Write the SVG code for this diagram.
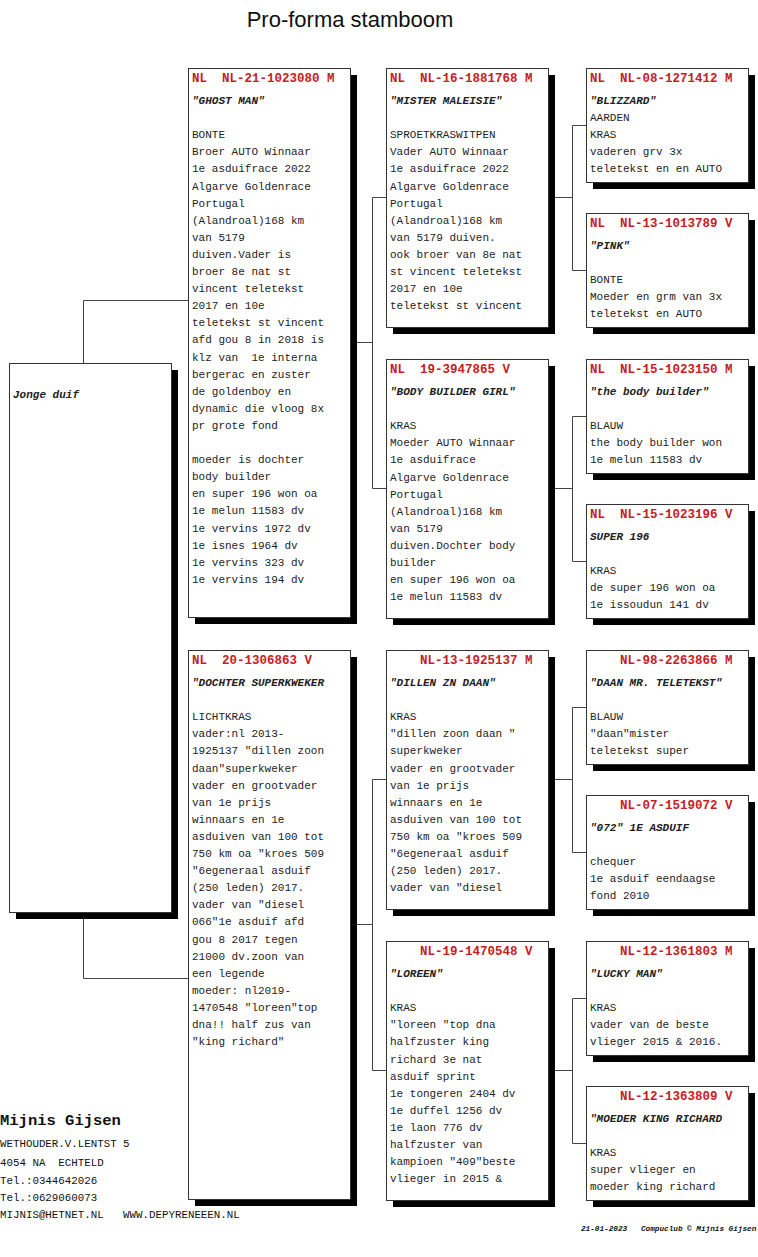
<svg xmlns="http://www.w3.org/2000/svg" width="758" height="1257" viewBox="0 0 758 1257">
<style>
.bg{fill:#fff}
.box{fill:#fff;stroke:#333;stroke-width:1}
.sh{fill:#000}
.hd{font-family:"Liberation Mono",monospace;font-size:12.5px;font-weight:bold;fill:#c8201e;white-space:pre}
.nm{font-family:"Liberation Mono",monospace;font-size:11px;font-style:italic;font-weight:bold;fill:#222;white-space:pre}
.tx{font-family:"Liberation Mono",monospace;font-size:11px;fill:#222;white-space:pre}
.cn{stroke:#444;stroke-width:1;fill:none}
.ttl{font-family:"Liberation Sans",Arial,sans-serif;font-size:22px;fill:#111}
.adr{font-family:"Liberation Mono",monospace;font-size:10.8px;fill:#111;white-space:pre}
.adn{font-family:"Liberation Mono",monospace;font-size:15.5px;font-weight:bold;fill:#111}
.ft{font-family:"Liberation Mono",monospace;font-size:7.7px;font-style:italic;font-weight:bold;fill:#111;white-space:pre}
</style>
<rect class="bg" x="0" y="0" width="758" height="1257"/>
<text class="ttl" x="350" y="27" text-anchor="middle">Pro-forma stamboom</text>

<g id="connectors">
<path class="cn" d="M188,300.5 H83.5 V363"/>
<path class="cn" d="M188,978.5 H83.5 V912"/>
<path class="cn" d="M350,342.5 H372.5"/>
<path class="cn" d="M386,197.5 H372.5 V488.5 H386"/>
<path class="cn" d="M350,924.5 H372.5"/>
<path class="cn" d="M386,779.5 H372.5 V1070.5 H386"/>
<path class="cn" d="M548,197.5 H572.5"/>
<path class="cn" d="M586,125.5 H572.5 V270.5 H586"/>
<path class="cn" d="M548,488.5 H572.5"/>
<path class="cn" d="M586,416.5 H572.5 V561.5 H586"/>
<path class="cn" d="M548,779.5 H572.5"/>
<path class="cn" d="M586,707.5 H572.5 V852.5 H586"/>
<path class="cn" d="M548,1070.5 H572.5"/>
<path class="cn" d="M586,998.5 H572.5 V1143.5 H586"/>
</g>

<g id="jonge-duif" transform="translate(9,363)">
<rect class="sh" x="7" y="7" width="162" height="549"/>
<rect class="box" x="0.5" y="0.5" width="162" height="549"/>
<text class="nm" x="4" y="35" font-weight="normal">Jonge duif</text>
</g>

<g id="vader" transform="translate(188,68)">
<rect class="sh" x="7" y="7" width="162" height="549"/>
<rect class="box" x="0.5" y="0.5" width="162" height="549"/>
<text class="hd" x="4" y="14">NL  NL-21-1023080 M</text>
<text class="nm" x="4" y="36">"GHOST MAN"</text>
<text class="tx" x="4" y="70.2">BONTE</text>
<text class="tx" x="4" y="87.3">Broer AUTO Winnaar</text>
<text class="tx" x="4" y="104.4">1e asduifrace 2022</text>
<text class="tx" x="4" y="121.5">Algarve Goldenrace</text>
<text class="tx" x="4" y="138.6">Portugal</text>
<text class="tx" x="4" y="155.7">(Alandroal)168 km</text>
<text class="tx" x="4" y="172.8">van 5179</text>
<text class="tx" x="4" y="189.9">duiven.Vader is</text>
<text class="tx" x="4" y="207">broer 8e nat st</text>
<text class="tx" x="4" y="224.1">vincent teletekst</text>
<text class="tx" x="4" y="241.2">2017 en 10e</text>
<text class="tx" x="4" y="258.3">teletekst st vincent</text>
<text class="tx" x="4" y="275.4">afd gou 8 in 2018 is</text>
<text class="tx" x="4" y="292.5">klz van  1e interna</text>
<text class="tx" x="4" y="309.6">bergerac en zuster</text>
<text class="tx" x="4" y="326.7">de goldenboy en</text>
<text class="tx" x="4" y="343.8">dynamic die vloog 8x</text>
<text class="tx" x="4" y="360.9">pr grote fond</text>
<text class="tx" x="4" y="395.1">moeder is dochter</text>
<text class="tx" x="4" y="412.2">body builder</text>
<text class="tx" x="4" y="429.3">en super 196 won oa</text>
<text class="tx" x="4" y="446.4">1e melun 11583 dv</text>
<text class="tx" x="4" y="463.5">1e vervins 1972 dv</text>
<text class="tx" x="4" y="480.6">1e isnes 1964 dv</text>
<text class="tx" x="4" y="497.7">1e vervins 323 dv</text>
<text class="tx" x="4" y="514.8">1e vervins 194 dv</text>
</g>

<g id="moeder" transform="translate(188,650)">
<rect class="sh" x="7" y="7" width="162" height="549"/>
<rect class="box" x="0.5" y="0.5" width="162" height="549"/>
<text class="hd" x="4" y="14">NL  20-1306863 V</text>
<text class="nm" x="4" y="36">"DOCHTER SUPERKWEKER</text>
<text class="tx" x="4" y="70.2">LICHTKRAS</text>
<text class="tx" x="4" y="87.3">vader:nl 2013-</text>
<text class="tx" x="4" y="104.4">1925137 "dillen zoon</text>
<text class="tx" x="4" y="121.5">daan"superkweker</text>
<text class="tx" x="4" y="138.6">vader en grootvader</text>
<text class="tx" x="4" y="155.7">van 1e prijs</text>
<text class="tx" x="4" y="172.8">winnaars en 1e</text>
<text class="tx" x="4" y="189.9">asduiven van 100 tot</text>
<text class="tx" x="4" y="207">750 km oa "kroes 509</text>
<text class="tx" x="4" y="224.1">"6egeneraal asduif</text>
<text class="tx" x="4" y="241.2">(250 leden) 2017.</text>
<text class="tx" x="4" y="258.3">vader van "diesel</text>
<text class="tx" x="4" y="275.4">066"1e asduif afd</text>
<text class="tx" x="4" y="292.5">gou 8 2017 tegen</text>
<text class="tx" x="4" y="309.6">21000 dv.zoon van</text>
<text class="tx" x="4" y="326.7">een legende</text>
<text class="tx" x="4" y="343.8">moeder: nl2019-</text>
<text class="tx" x="4" y="360.9">1470548 "loreen"top</text>
<text class="tx" x="4" y="378">dna!! half zus van</text>
<text class="tx" x="4" y="395.1">"king richard"</text>
</g>

<g id="vv" transform="translate(386,68)">
<rect class="sh" x="7" y="7" width="162" height="259"/>
<rect class="box" x="0.5" y="0.5" width="162" height="259"/>
<text class="hd" x="4" y="14">NL  NL-16-1881768 M</text>
<text class="nm" x="4" y="36">"MISTER MALEISIE"</text>
<text class="tx" x="4" y="70.2">SPROETKRASWITPEN</text>
<text class="tx" x="4" y="87.3">Vader AUTO Winnaar</text>
<text class="tx" x="4" y="104.4">1e asduifrace 2022</text>
<text class="tx" x="4" y="121.5">Algarve Goldenrace</text>
<text class="tx" x="4" y="138.6">Portugal</text>
<text class="tx" x="4" y="155.7">(Alandroal)168 km</text>
<text class="tx" x="4" y="172.8">van 5179 duiven.</text>
<text class="tx" x="4" y="189.9">ook broer van 8e nat</text>
<text class="tx" x="4" y="207">st vincent teletekst</text>
<text class="tx" x="4" y="224.1">2017 en 10e</text>
<text class="tx" x="4" y="241.2">teletekst st vincent</text>
</g>

<g id="vm" transform="translate(386,359)">
<rect class="sh" x="7" y="7" width="162" height="259"/>
<rect class="box" x="0.5" y="0.5" width="162" height="259"/>
<text class="hd" x="4" y="14">NL  19-3947865 V</text>
<text class="nm" x="4" y="36">"BODY BUILDER GIRL"</text>
<text class="tx" x="4" y="70.2">KRAS</text>
<text class="tx" x="4" y="87.3">Moeder AUTO Winnaar</text>
<text class="tx" x="4" y="104.4">1e asduifrace</text>
<text class="tx" x="4" y="121.5">Algarve Goldenrace</text>
<text class="tx" x="4" y="138.6">Portugal</text>
<text class="tx" x="4" y="155.7">(Alandroal)168 km</text>
<text class="tx" x="4" y="172.8">van 5179</text>
<text class="tx" x="4" y="189.9">duiven.Dochter body</text>
<text class="tx" x="4" y="207">builder</text>
<text class="tx" x="4" y="224.1">en super 196 won oa</text>
<text class="tx" x="4" y="241.2">1e melun 11583 dv</text>
</g>

<g id="mv" transform="translate(386,650)">
<rect class="sh" x="7" y="7" width="162" height="259"/>
<rect class="box" x="0.5" y="0.5" width="162" height="259"/>
<text class="hd" x="34" y="14">NL-13-1925137 M</text>
<text class="nm" x="4" y="36">"DILLEN ZN DAAN"</text>
<text class="tx" x="4" y="70.2">KRAS</text>
<text class="tx" x="4" y="87.3">"dillen zoon daan "</text>
<text class="tx" x="4" y="104.4">superkweker</text>
<text class="tx" x="4" y="121.5">vader en grootvader</text>
<text class="tx" x="4" y="138.6">van 1e prijs</text>
<text class="tx" x="4" y="155.7">winnaars en 1e</text>
<text class="tx" x="4" y="172.8">asduiven van 100 tot</text>
<text class="tx" x="4" y="189.9">750 km oa "kroes 509</text>
<text class="tx" x="4" y="207">"6egeneraal asduif</text>
<text class="tx" x="4" y="224.1">(250 leden) 2017.</text>
<text class="tx" x="4" y="241.2">vader van "diesel</text>
</g>

<g id="mm" transform="translate(386,941)">
<rect class="sh" x="7" y="7" width="162" height="259"/>
<rect class="box" x="0.5" y="0.5" width="162" height="259"/>
<text class="hd" x="34" y="14">NL-19-1470548 V</text>
<text class="nm" x="4" y="36">"LOREEN"</text>
<text class="tx" x="4" y="70.2">KRAS</text>
<text class="tx" x="4" y="87.3">"loreen "top dna</text>
<text class="tx" x="4" y="104.4">halfzuster king</text>
<text class="tx" x="4" y="121.5">richard 3e nat</text>
<text class="tx" x="4" y="138.6">asduif sprint</text>
<text class="tx" x="4" y="155.7">1e tongeren 2404 dv</text>
<text class="tx" x="4" y="172.8">1e duffel 1256 dv</text>
<text class="tx" x="4" y="189.9">1e laon 776 dv</text>
<text class="tx" x="4" y="207">halfzuster van</text>
<text class="tx" x="4" y="224.1">kampioen "409"beste</text>
<text class="tx" x="4" y="241.2">vlieger in 2015 &amp;</text>
</g>

<g id="vvv" transform="translate(586,68)">
<rect class="sh" x="7" y="7" width="162" height="114"/>
<rect class="box" x="0.5" y="0.5" width="162" height="114"/>
<text class="hd" x="4" y="14">NL  NL-08-1271412 M</text>
<text class="nm" x="4" y="36">"BLIZZARD"</text>
<text class="tx" x="4" y="53.1">AARDEN</text>
<text class="tx" x="4" y="70.2">KRAS</text>
<text class="tx" x="4" y="87.3">vaderen grv 3x</text>
<text class="tx" x="4" y="104.4">teletekst en en AUTO</text>
</g>

<g id="vvm" transform="translate(586,213)">
<rect class="sh" x="7" y="7" width="162" height="114"/>
<rect class="box" x="0.5" y="0.5" width="162" height="114"/>
<text class="hd" x="4" y="14">NL  NL-13-1013789 V</text>
<text class="nm" x="4" y="36">"PINK"</text>
<text class="tx" x="4" y="70.2">BONTE</text>
<text class="tx" x="4" y="87.3">Moeder en grm van 3x</text>
<text class="tx" x="4" y="104.4">teletekst en AUTO</text>
</g>

<g id="vmv" transform="translate(586,359)">
<rect class="sh" x="7" y="7" width="162" height="114"/>
<rect class="box" x="0.5" y="0.5" width="162" height="114"/>
<text class="hd" x="4" y="14">NL  NL-15-1023150 M</text>
<text class="nm" x="4" y="36">"the body builder"</text>
<text class="tx" x="4" y="70.2">BLAUW</text>
<text class="tx" x="4" y="87.3">the body builder won</text>
<text class="tx" x="4" y="104.4">1e melun 11583 dv</text>
</g>

<g id="vmm" transform="translate(586,504)">
<rect class="sh" x="7" y="7" width="162" height="114"/>
<rect class="box" x="0.5" y="0.5" width="162" height="114"/>
<text class="hd" x="4" y="14">NL  NL-15-1023196 V</text>
<text class="nm" x="4" y="36">SUPER 196</text>
<text class="tx" x="4" y="70.2">KRAS</text>
<text class="tx" x="4" y="87.3">de super 196 won oa</text>
<text class="tx" x="4" y="104.4">1e issoudun 141 dv</text>
</g>

<g id="mvv" transform="translate(586,650)">
<rect class="sh" x="7" y="7" width="162" height="114"/>
<rect class="box" x="0.5" y="0.5" width="162" height="114"/>
<text class="hd" x="34" y="14">NL-98-2263866 M</text>
<text class="nm" x="4" y="36">"DAAN MR. TELETEKST"</text>
<text class="tx" x="4" y="70.2">BLAUW</text>
<text class="tx" x="4" y="87.3">"daan"mister</text>
<text class="tx" x="4" y="104.4">teletekst super</text>
</g>

<g id="mvm" transform="translate(586,795)">
<rect class="sh" x="7" y="7" width="162" height="114"/>
<rect class="box" x="0.5" y="0.5" width="162" height="114"/>
<text class="hd" x="34" y="14">NL-07-1519072 V</text>
<text class="nm" x="4" y="36">"072" 1E ASDUIF</text>
<text class="tx" x="4" y="70.2">chequer</text>
<text class="tx" x="4" y="87.3">1e asduif eendaagse</text>
<text class="tx" x="4" y="104.4">fond 2010</text>
</g>

<g id="mmv" transform="translate(586,941)">
<rect class="sh" x="7" y="7" width="162" height="114"/>
<rect class="box" x="0.5" y="0.5" width="162" height="114"/>
<text class="hd" x="34" y="14">NL-12-1361803 M</text>
<text class="nm" x="4" y="36">"LUCKY MAN"</text>
<text class="tx" x="4" y="70.2">KRAS</text>
<text class="tx" x="4" y="87.3">vader van de beste</text>
<text class="tx" x="4" y="104.4">vlieger 2015 &amp; 2016.</text>
</g>

<g id="mmm" transform="translate(586,1086)">
<rect class="sh" x="7" y="7" width="162" height="114"/>
<rect class="box" x="0.5" y="0.5" width="162" height="114"/>
<text class="hd" x="34" y="14">NL-12-1363809 V</text>
<text class="nm" x="4" y="36">"MOEDER KING RICHARD</text>
<text class="tx" x="4" y="70.2">KRAS</text>
<text class="tx" x="4" y="87.3">super vlieger en</text>
<text class="tx" x="4" y="104.4">moeder king richard</text>
</g>

<g id="address">
<text class="adn" x="0" y="1125">Mijnis Gijsen</text>
<text class="adr" x="0" y="1147">WETHOUDER.V.LENTST 5</text>
<text class="adr" x="0" y="1166">4054 NA  ECHTELD</text>
<text class="adr" x="0" y="1184">Tel.:0344642026</text>
<text class="adr" x="0" y="1201">Tel.:0629060073</text>
<text class="adr" x="0" y="1218">MIJNIS@HETNET.NL   WWW.DEPYRENEEEN.NL</text>
</g>
<text class="ft" x="581" y="1231">21-01-2023   Compuclub © Mijnis Gijsen</text>
</svg>
